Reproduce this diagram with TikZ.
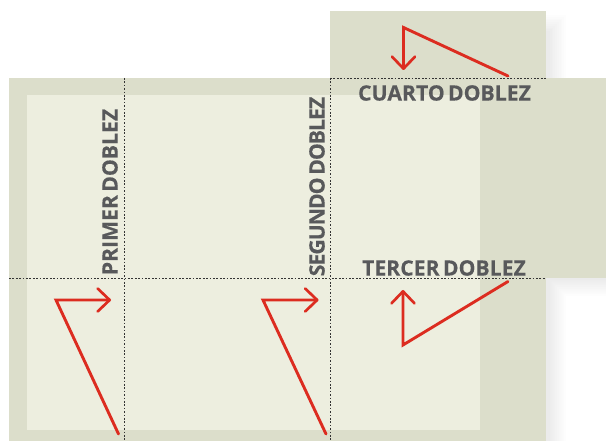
\documentclass[tikz,border=0pt]{standalone}
\usepackage{fontspec}
\setmainfont[WordSpace=0.6,FakeBold=0.25]{Open Sans}
\usetikzlibrary{arrows.meta}
\definecolor{paperdark}{HTML}{DCDECB}
\definecolor{paperlight}{HTML}{EDEEDF}
\definecolor{foldred}{HTML}{DC2C20}
\definecolor{labelgrey}{HTML}{58595B}
\definecolor{folddot}{HTML}{333333}
\tikzset{
  x=1pt,y=-1pt,
  foldline/.style={line width=0.9pt,folddot,dash pattern=on 1.7pt off 1.7pt},
  foldarrow/.style={foldred,line width=2.9pt,line join=miter,line cap=round,
    -{Straight Barb[length=12pt,width=23pt,line width=2.7pt,round]}},
  foldlabel/.style={text=labelgrey,font=\fontsize{21.2}{24}\selectfont\bfseries,inner sep=0pt},
  softshadow/.style={black,opacity=0.009},
}
\begin{document}
\begin{tikzpicture}
\useasboundingbox (0,0) rectangle (606,441);
% shadows
\foreach \i in {0,...,9}{
  \fill[softshadow] (546,278) -- (606,278) -- (606,296-1.8*\i) -- (566-1.8*\i,296-1.8*\i)
    -- (566-1.8*\i,441) -- (546,441) -- cycle;
  \fill[softshadow] (546,15+1.8*\i) rectangle (566-1.8*\i,78);
}
% paper
\fill[paperdark] (9,78) rectangle (546,441);
\fill[paperdark] (546,78) rectangle (606,278);
\fill[paperdark] (330,11) rectangle (546,78);
\fill[paperlight] (27,95) rectangle (480,430);
% fold lines
\coordinate (v1a) at (124,78);  \coordinate (v1b) at (124,441);
\coordinate (v2a) at (330,78);  \coordinate (v2b) at (330,441);
\coordinate (h1a) at (330,78);  \coordinate (h1b) at (546,78);
\coordinate (h2a) at (9,278.5); \coordinate (h2b) at (546,278.5);
\draw[foldline] (v1a) -- (v1b);
\draw[foldline] (v2a) -- (v2b);
\draw[foldline] (h1a) -- (h1b);
\draw[foldline] (h2a) -- (h2b);
% arrows
\coordinate (a1s) at (118.5,434); \coordinate (a1m) at (56,300); \coordinate (a1e) at (111,300);
\coordinate (a2s) at (326,434);   \coordinate (a2m) at (263,300); \coordinate (a2e) at (318.5,300);
\coordinate (a3s) at (508,281.5); \coordinate (a3m) at (403,345); \coordinate (a3e) at (403,290);
\coordinate (a4s) at (508,76);    \coordinate (a4m) at (403.5,27.5); \coordinate (a4e) at (403.5,70);
\draw[foldarrow] (a1s) -- (a1m) -- (a1e);
\draw[foldarrow] (a2s) -- (a2m) -- (a2e);
\draw[foldarrow] (a3s) -- (a3m) -- (a3e);
\draw[foldarrow] (a4s) -- (a4m) -- (a4e);
% labels
\node[foldlabel,rotate=90] (primer) at (110,192) {PRIMER DOBLEZ};
\node[foldlabel,rotate=90] (segundo) at (317,186.5) {\addfontfeature{LetterSpace=-4.7}SEGUNDO DOBLEZ};
\node[foldlabel] (tercer) at (444,268) {TERCER DOBLEZ};
\node[foldlabel] (cuarto) at (444.5,93) {CUARTO DOBLEZ};
\end{tikzpicture}
\end{document}
